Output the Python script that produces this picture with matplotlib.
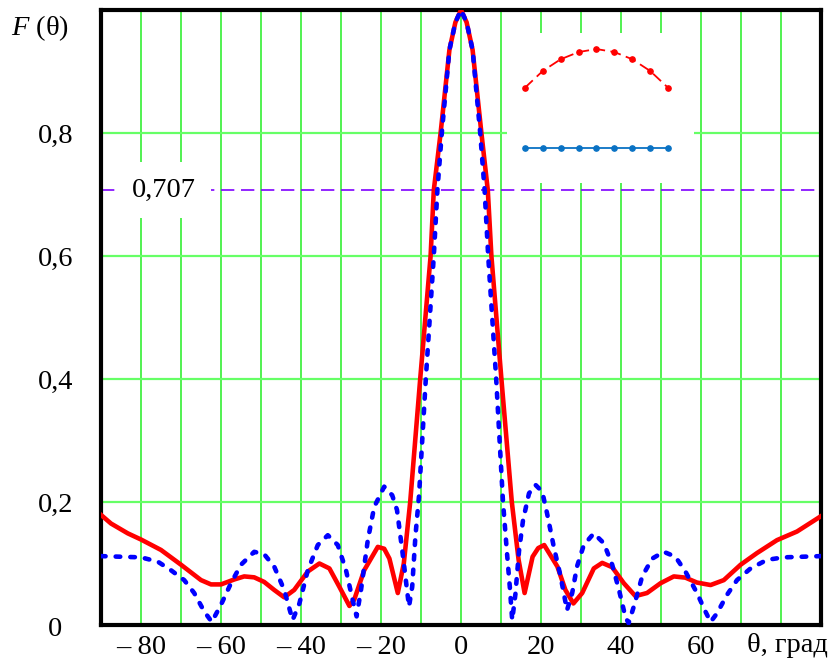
import matplotlib
matplotlib.use('Agg')
import matplotlib.pyplot as plt
from matplotlib.transforms import blended_transform_factory

plt.rcParams['font.family'] = ['Liberation Serif', 'DejaVu Serif']
plt.rcParams['mathtext.fontset'] = 'custom'
plt.rcParams['mathtext.it'] = 'Liberation Serif:italic'
plt.rcParams['mathtext.rm'] = 'Liberation Serif'

# ---------------- data ----------------
theta_red = [-90, -87.5, -83.3, -80, -75, -70, -65, -62.5, -60, -56.7, -54.2, -51.7,
             -49.2, -46.7, -44.2, -41.7, -38.3, -35.4, -32.9, -30.4, -27.9, -26.7,
             -24.2, -20.8, -19.2, -17.9, -15.8, -14.3, -12.7, -10.2, -7.6, -6.8, -5.1,
             -2.9, -1.4, 0,
             1.4, 2.9, 5.1, 6.7, 7.6, 10.1, 12.7, 14.4, 15.9, 17.9, 19.3, 20.8, 24.1,
             26.1, 28.1, 30.3, 33.2, 35.3, 37.8, 40.7, 43.6, 46.5, 49.9, 53.2, 56.1,
             59.0, 62.4, 65.7, 69.9, 74.0, 79.0, 84.0, 90]
f_red = [0.179, 0.165, 0.149, 0.139, 0.122, 0.098, 0.073, 0.066, 0.066, 0.074, 0.079, 0.0775,
         0.070, 0.057, 0.045, 0.057, 0.087, 0.100, 0.092, 0.062, 0.031, 0.041,
         0.089, 0.127, 0.124, 0.108, 0.052, 0.100, 0.200, 0.400, 0.600, 0.707, 0.800,
         0.935, 0.980, 1.000,
         0.980, 0.935, 0.800, 0.707, 0.600, 0.400, 0.200, 0.106, 0.052, 0.111, 0.125, 0.130, 0.095,
         0.057, 0.035, 0.052, 0.092, 0.101, 0.094, 0.068, 0.047, 0.052, 0.068, 0.079, 0.077,
         0.069, 0.065, 0.073, 0.098, 0.117, 0.138, 0.152, 0.177]

theta_blue = [-90, -80, -75.8, -72.5, -69.2, -66.7, -64.2, -62.3, -60, -57.5, -55, -51.7,
              -49.2, -46.7, -44.2, -42.1, -40.4, -38.3, -35.8, -33.3, -30.8, -28.75, -27.1,
              -26.1, -25, -23.3, -21.7, -19.2, -17.2, -16.0, -14.7, -13.9, -13.0, -12.2,
              -11.4, -10.5, -8.8, -6.8, -5.9, -4.8, -2.9, -1.4, 0,
              1.4, 2.9, 4.8, 5.9, 6.8, 8.8, 10.5, 11.5, 12.2, 12.8, 13.6, 14.5, 15.5,
              17.0, 18.6, 20.3, 21.5, 23.2, 24.9, 26.5, 27.8, 29.0, 30.7, 33.2, 35.7,
              37.8, 39.5, 41.1, 41.9, 43.2, 45.3, 47.8, 50.7, 53.6, 56.1, 59.0, 61.1,
              62.4, 64.0, 66.5, 69.0, 72.4, 76.5, 80.7, 90]
f_blue = [0.112, 0.110, 0.103, 0.089, 0.073, 0.052, 0.022, 0.005, 0.033, 0.068, 0.098, 0.119,
          0.115, 0.095, 0.057, 0.008, 0.035, 0.089, 0.130, 0.146, 0.130, 0.089, 0.041,
          0.014, 0.057, 0.138, 0.192, 0.225, 0.211, 0.187, 0.122, 0.079, 0.030, 0.062,
          0.144, 0.210, 0.400, 0.600, 0.707, 0.800, 0.935, 0.980, 1.000,
          0.980, 0.935, 0.800, 0.707, 0.600, 0.400, 0.200, 0.117, 0.062, 0.008, 0.050, 0.120, 0.170,
          0.214, 0.228, 0.217, 0.182, 0.127, 0.079, 0.024, 0.052, 0.095, 0.130, 0.149, 0.133,
          0.098, 0.057, 0.013, 0.003, 0.030, 0.079, 0.108, 0.119, 0.111, 0.087, 0.052, 0.022,
          0.005, 0.019, 0.049, 0.073, 0.092, 0.106, 0.110, 0.112]

half_power = 0.707

x_ticks = [-80, -60, -40, -20, 0, 20, 40, 60]
x_tick_labels = ['\u2013 80', '\u2013 60', '\u2013 40', '\u2013 20', '0', '20', '40', '60']
y_ticks = [0.2, 0.4, 0.6, 0.8]
y_tick_labels = ['0,2', '0,4', '0,6', '0,8']

# inset: amplitude distributions over the array elements
elem_n = [-4, -3, -2, -1, 0, 1, 2, 3, 4]
amp_red = [0.635, 0.747, 0.825, 0.873, 0.893, 0.873, 0.825, 0.747, 0.635]
amp_blue = [0.233] * 9

FS = 20.5

# ---------------- figure ----------------
W, H = 832, 664
fig = plt.figure(figsize=(W / 100, H / 100), dpi=100)
ax = fig.add_axes([101 / W, 1 - 625 / H, 720 / W, 615 / H])
ax.set_xlim(-90, 90)
ax.set_ylim(0, 1.0)

# grid
for v in range(-80, 81, 10):
    ax.axvline(v, color='#22ee22', lw=1.1, zorder=1)
for v in y_ticks:
    ax.axhline(v, color='#66ff66', lw=1.6, zorder=1)

# 0.707 level
ax.axhline(half_power, color='#7f00ff', lw=1.2, dashes=(8, 4), zorder=2)
ax.text(-74.3, half_power, '0,707', fontsize=FS, ha='center', va='center', zorder=3,
        bbox=dict(boxstyle='square,pad=0.55', fc='white', ec='none'))

# curves
ax.plot(theta_red, f_red, color='#ff0000', lw=3.3, zorder=4, solid_joinstyle='round')
ax.plot(theta_blue, f_blue, color='#0000ff', lw=3.3, dashes=(1.0, 2.2),
        dash_capstyle='round', zorder=5)

ax.set_xticks(x_ticks)
ax.set_xticklabels(x_tick_labels, fontsize=FS)
ax.set_yticks(y_ticks)
ax.set_yticklabels(y_tick_labels, fontsize=FS)
ax.tick_params(axis='both', length=0)
ax.tick_params(axis='x', pad=7)
ax.tick_params(axis='y', pad=20)
for s in ax.spines.values():
    s.set_linewidth(3.0)
    s.set_color('black')

trans = blended_transform_factory(ax.transData, ax.transAxes)
ax.text(81.7, -0.013, '\u03b8, \u0433\u0440\u0430\u0434', transform=trans, fontsize=FS,
        ha='center', va='top')
fig.text(55 / W, 1 - 630 / H, '0', fontsize=FS, ha='center', va='center')
fig.text(11 / W, 1 - 28 / H, '$F$ (\u03b8)', fontsize=FS, ha='left', va='center')

# inset
ins = fig.add_axes([507 / W, 1 - 183 / H, 187 / W, 150 / H])
ins.set_facecolor('white')
ins.set_xlim(-5.0, 5.45)
ins.set_ylim(0, 1)
ins.plot(elem_n, amp_red, color='#ff0000', lw=1.3, dashes=(6, 3), marker='o', ms=3.8)
ins.plot(elem_n, amp_blue, color='#0a72c4', lw=1.3, marker='o', ms=3.8)
ins.set_xticks([])
ins.set_yticks([])
for s in ins.spines.values():
    s.set_visible(False)

fig.savefig('out.png', dpi=100)
